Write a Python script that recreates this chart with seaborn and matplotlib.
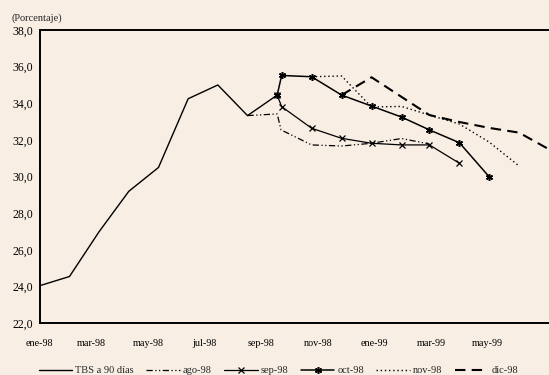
import numpy as np
import pandas as pd
import matplotlib
matplotlib.use("Agg")
import matplotlib.pyplot as plt
import seaborn as sns

# Monthly index: 0 = ene-98. Forecast vintages are plotted slightly after the month mark.
tbs_x = [0, 1, 2, 3, 4, 5, 6, 7, 8]
tbs_y = [24.05, 24.55, 27.0, 29.2, 30.5, 34.25, 35.0, 33.33, 34.45]

ago_x = [7, 8, 8.13, 9.16, 10.17, 11.18, 12.19, 13.13]
ago_y = [33.33, 33.42, 32.55, 31.73, 31.67, 31.82, 32.08, 31.78]

sep_x = [8, 8.15, 9.16, 10.17, 11.18, 12.19, 13.13, 14.14]
sep_y = [34.45, 33.82, 32.64, 32.09, 31.82, 31.73, 31.73, 30.73]

oct_x = [8, 8.15, 9.16, 10.17, 11.18, 12.19, 13.13, 14.14, 15.14]
oct_y = [34.45, 35.52, 35.45, 34.45, 33.85, 33.25, 32.55, 31.85, 30.0]

nov_x = [9.16, 10.17, 11.18, 12.19, 13.13, 14.14, 15.14, 16.15]
nov_y = [35.45, 35.49, 33.80, 33.83, 33.36, 32.87, 31.89, 30.58]

dic_x = [10.17, 11.18, 12.19, 13.13, 14.14, 15.14, 16.15, 17.16]
dic_y = [34.45, 35.42, 34.35, 33.36, 32.98, 32.66, 32.40, 31.49]

tick_labels = ["ene-98", "mar-98", "may-98", "jul-98", "sep-98",
               "nov-98", "ene-99", "mar-99", "may-99"]
tick_pos = [0] + [-0.164 + 1.907 * k for k in range(1, 9)]

y_ticks = [22, 24, 26, 28, 30, 32, 34, 36, 38]

bg = "#F8EEE4"
sns.set_theme(style="white")
plt.rcParams["font.family"] = ["Liberation Serif", "DejaVu Serif"]

fig = plt.figure(figsize=(5.49, 3.75), dpi=100, facecolor=bg)
ax = fig.add_axes([0.0725, 0.138, 0.9275, 0.782])
ax.set_facecolor(bg)

series = [
    ("TBS a 90 días", tbs_x, tbs_y, dict(lw=1.0, ls="-")),
    ("ago-98", ago_x, ago_y, dict(lw=0.9, ls=(0, (5, 2, 1, 2, 1, 2)))),
    ("sep-98", sep_x, sep_y, dict(lw=0.9, ls="-", marker="x", ms=4.5, mew=0.9)),
    ("oct-98", oct_x, oct_y, dict(lw=1.1, ls="-", marker=(6, 2, 0), ms=5, mew=1.1)),
    ("nov-98", nov_x, nov_y, dict(lw=1.0, ls=(0, (1, 2)))),
    ("dic-98", dic_x, dic_y, dict(lw=1.5, ls=(0, (5, 3)))),
]

for name, xs, ys, st in series:
    df = pd.DataFrame({"x": xs, "y": ys})
    sns.lineplot(data=df, x="x", y="y", ax=ax, label=name, sort=False,
                 color="black", linewidth=st["lw"], linestyle=st["ls"],
                 marker=st.get("marker"), markersize=st.get("ms", 0),
                 markeredgewidth=st.get("mew", 0), markeredgecolor="black")

ax.set_xlim(0, 17.16)
ax.set_ylim(22, 38)
ax.set_yticks(y_ticks)
ax.set_yticklabels([f"{v:.1f}".replace(".", ",") for v in y_ticks], fontsize=8.5)
ax.set_xticks(tick_pos)
ax.set_xticklabels(tick_labels, fontsize=7.3)
ax.tick_params(axis="both", direction="in", length=3, width=0.8, colors="black")
ax.tick_params(axis="y", pad=5)
ax.tick_params(axis="x", pad=11)
ax.set_xlabel("")
ax.set_ylabel("")

for s in ("left", "bottom", "top"):
    ax.spines[s].set_color("black")
    ax.spines[s].set_linewidth(1.4)
ax.spines["right"].set_visible(False)

fig.text(0.021, 0.952, "(Porcentaje)", fontsize=7.5, ha="left", va="center")

leg = ax.legend(loc="center", bbox_to_anchor=(0.507, 0.012), bbox_transform=fig.transFigure,
                ncol=6, frameon=False, fontsize=7.5, handlelength=3.2,
                handletextpad=0.3, columnspacing=1.2, borderaxespad=0)

fig.savefig("out.png", dpi=100, facecolor=bg)
